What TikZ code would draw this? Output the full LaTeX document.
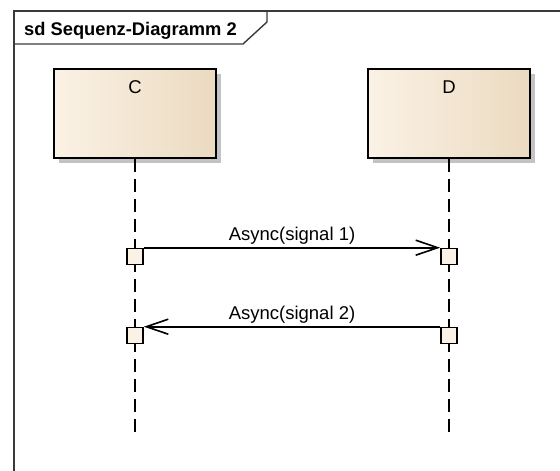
\documentclass[tikz,border=0pt]{standalone}
\usepackage{fontspec}
\setmainfont{Liberation Sans}
\usetikzlibrary{arrows.meta,shadows}

\definecolor{lifefill}{HTML}{FBF2E5}
\definecolor{lifedark}{HTML}{EBDAC0}
\definecolor{shadowgrey}{HTML}{C3C3C3}
\definecolor{framegrey}{HTML}{3A3A3A}

\begin{document}
\begin{tikzpicture}[x=1pt, y=-1pt,
  lifebox/.style={draw=black, line width=1.7pt,
    left color=lifefill, middle color=lifefill, right color=lifedark,
    minimum width=162pt, inner sep=0pt,
    text height=24.5pt, text depth=64.5pt,
    font=\fontsize{18.5}{20}\selectfont,
    drop shadow={shadow xshift=5pt, shadow yshift=-5pt, opacity=1,
                 fill=shadowgrey, draw=none}},
  lifeline/.style={line width=1.7pt, dash pattern=on 13pt off 7pt},
  actbox/.style={draw=black, line width=1.6pt, fill=lifefill,
    minimum size=16pt, inner sep=0pt},
  msg/.style={line width=1.6pt,
    -{Straight Barb[length=22pt, width=15pt, line width=1.6pt]}},
  msglabel/.style={anchor=base, yshift=7.5pt, inner sep=0pt,
    font=\fontsize{18.5}{20}\selectfont},
  framestroke/.style={draw=framegrey, line width=1.4pt},
  titlestyle/.style={anchor=base west, inner sep=0pt,
    font=\fontsize{18.3}{20}\selectfont\bfseries}]

  \useasboundingbox (0,0) rectangle (560,471);

  % sequence diagram frame and its name tab
  \draw[framestroke] (14,480) -- (14,11) -- (570,11);
  \draw[framestroke] (14,44) -- (243,44) -- (267,22) -- (267,11);
  \node[titlestyle] (title) at (24,35.5) {sd Sequenz-Diagramm 2};

  % lifeline heads
  \node[lifebox] (C) at (135,113.5) {C};
  \node[lifebox] (D) at (449,113.5) {D};

  % lifeline ends
  \coordinate (Cend) at (135,433);
  \coordinate (Dend) at (449,433);

  \draw[lifeline] (C.south) -- (Cend);
  \draw[lifeline] (D.south) -- (Dend);

  % execution occurrences
  \node[actbox] (C1) at (135,256.5) {};
  \node[actbox] (D1) at (449,256.5) {};
  \node[actbox] (C2) at (135,335.5) {};
  \node[actbox] (D2) at (449,335.5) {};

  % asynchronous messages
  \draw[msg] (C1.north east) -- node[msglabel] {Async(signal 1)} (D1.north west);
  \draw[msg] (D2.north west) -- node[msglabel] {Async(signal 2)} (C2.north east);
\end{tikzpicture}
\end{document}
